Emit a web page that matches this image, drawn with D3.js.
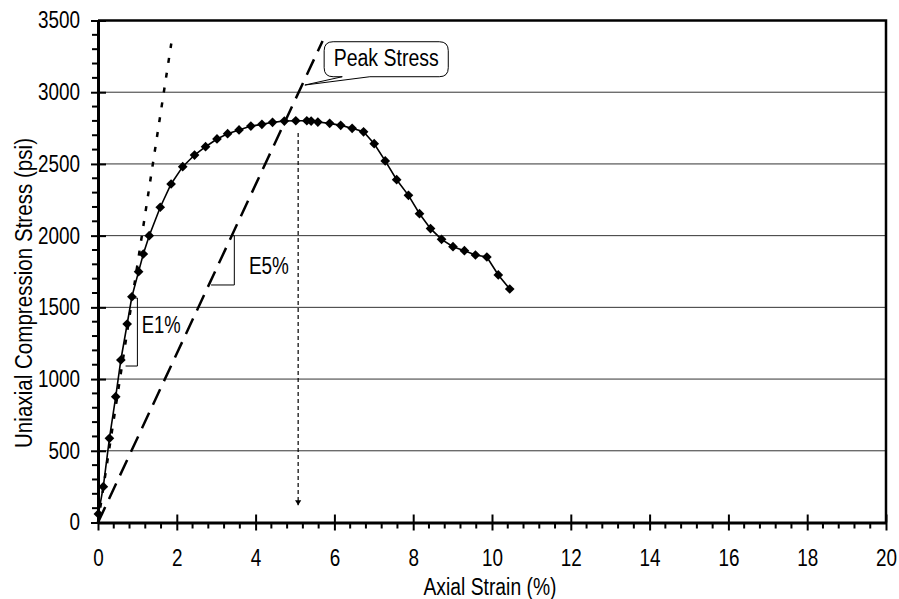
<!DOCTYPE html>
<html lang="en">
<head>
<meta charset="UTF-8">
<title>Stress-strain</title>
<style>
  body { margin: 0; background: #fff; }
  svg text { font-family: "Liberation Sans", Arial, sans-serif; }
</style>
</head>
<body>
<svg width="899" height="599" id="svg"></svg>
<script src="https://d3js.org/d3.v7.min.js"></script>
<script>
// axial strain (%) and stress (psi)
const strain = [0.01, 0.135, 0.29, 0.45, 0.58, 0.74, 0.86, 1.03, 1.15, 1.30, 1.58, 1.855,
  2.15, 2.45, 2.73, 3.02, 3.29, 3.58, 3.88, 4.16, 4.43, 4.73, 5.02, 5.30, 5.41, 5.58,
  5.88, 6.16, 6.45, 6.74, 7.01, 7.29, 7.58, 7.88, 8.16, 8.44, 8.72, 9.01, 9.30, 9.58,
  9.87, 10.16, 10.45]
const stress = [60, 250, 587, 877, 1133, 1384, 1574, 1749, 1872, 2000, 2198, 2360,
  2481, 2562, 2620, 2674, 2711, 2737, 2764, 2776, 2790, 2799, 2801, 2801, 2799, 2792,
  2783, 2769, 2748, 2724, 2641, 2521, 2390, 2281, 2153, 2049, 1974, 1923, 1895, 1865,
  1851, 1726, 1628]

// tangent (E1%) and secant (E5%) modulus lines, end points [strain, stress]
const e1Line = [[0, 0], [1.86, 3340]]
const e5Line = [[0, 0], [5.70, 3357]]

const xTicks = [0, 2, 4, 6, 8, 10, 12, 14, 16, 18, 20]
const yTicks = [0, 500, 1000, 1500, 2000, 2500, 3000, 3500]

const svg = d3.select("svg#svg")
const padding = { left: 98, right: 886, top: 20.5, bottom: 522.5 }
const fontSize = "23px"

const x = d3.scaleLinear().domain([0, 20]).range([padding.left, padding.right])
const y = d3.scaleLinear().domain([0, 3500]).range([padding.bottom, padding.top])

// squeeze text so the sans face reads like a narrow one
function narrow(sel, width) {
  sel.each(function () {
    const w = this.getComputedTextLength()
    if (w > 0) d3.select(this).attr("textLength", width || w * 0.82).attr("lengthAdjust", "spacingAndGlyphs")
  })
}

// gridlines
svg.append("g").selectAll("line").data(yTicks.filter(d => d > 0 && d < 3500)).join("line")
  .attr("x1", padding.left).attr("x2", padding.right)
  .attr("y1", d => y(d)).attr("y2", d => y(d))
  .attr("stroke", "#333").attr("stroke-width", 1)

// top and right frame
svg.append("path")
  .attr("d", `M${padding.left},${padding.top}H${padding.right}V${padding.bottom}`)
  .attr("fill", "none").attr("stroke", "#000").attr("stroke-width", 2.5)

// minor ticks
const xMinor = d3.range(0, 20.001, 0.4).filter(v => Math.abs(v / 2 - Math.round(v / 2)) > 0.01)
const yMinor = d3.range(0, 3501, 100).filter(v => v % 500 !== 0)
svg.append("g").selectAll("line").data(xMinor).join("line")
  .attr("x1", d => x(d)).attr("x2", d => x(d))
  .attr("y1", padding.bottom).attr("y2", padding.bottom + 6)
  .attr("stroke", "#000").attr("stroke-width", 2)
svg.append("g").selectAll("line").data(yMinor).join("line")
  .attr("y1", d => y(d)).attr("y2", d => y(d))
  .attr("x1", padding.left - 6).attr("x2", padding.left)
  .attr("stroke", "#000").attr("stroke-width", 2)

// major axes
const xAxis = svg.append("g").attr("transform", `translate(0,${padding.bottom})`)
  .call(d3.axisBottom(x).tickValues(xTicks).tickSize(8).tickSizeOuter(0).tickFormat(d => d))
xAxis.select(".domain").attr("stroke-width", 3)
xAxis.selectAll(".tick line").attr("y1", -8).attr("stroke-width", 2)
xAxis.selectAll(".tick text").attr("y", 27).attr("font-size", fontSize).attr("fill", "#000")
  .call(narrow)

const yAxis = svg.append("g").attr("transform", `translate(${padding.left},0)`)
  .call(d3.axisLeft(y).tickValues(yTicks).tickSize(7).tickPadding(11).tickSizeOuter(0).tickFormat(d => d))
yAxis.select(".domain").attr("stroke-width", 3)
yAxis.selectAll(".tick line").attr("x2", 8).attr("x1", -7).attr("stroke-width", 2)
yAxis.selectAll(".tick text").attr("font-size", fontSize).attr("fill", "#000")
  .call(narrow)

// axis titles
svg.append("text").attr("x", 490).attr("y", 595)
  .attr("text-anchor", "middle").attr("font-size", fontSize)
  .text("Axial Strain (%)")
  .call(narrow, 133)
svg.append("text").attr("transform", "translate(32,293) rotate(-90)")
  .attr("text-anchor", "middle").attr("font-size", fontSize)
  .text("Uniaxial Compression Stress (psi)")
  .call(narrow, 310)

const line = d3.line().x(d => x(d[0])).y(d => y(d[1]))

// modulus lines
svg.append("path").attr("d", line(e1Line))
  .attr("fill", "none").attr("stroke", "#000").attr("stroke-width", 2.5)
  .attr("stroke-dasharray", "5,10")
svg.append("path").attr("d", line(e5Line))
  .attr("fill", "none").attr("stroke", "#000").attr("stroke-width", 2.5)
  .attr("stroke-dasharray", "17,9")

// slope brackets
const bracket = (x0, x1, y0, y1, xb) =>
  `M${x(x0)},${y(y1)}H${x(x1)}V${y(y0)}H${x(xb)}`
svg.append("path").attr("d", bracket(0.87, 1.0, 1091, 1565, 0.70))
  .attr("fill", "none").attr("stroke", "#000").attr("stroke-width", 1)
svg.append("path").attr("d", bracket(3.40, 3.46, 1656, 2000, 2.87))
  .attr("fill", "none").attr("stroke", "#000").attr("stroke-width", 1)
svg.append("text").attr("x", x(1.11)).attr("y", y(1323)).attr("font-size", fontSize)
  .text("E1%").call(narrow, 39)
svg.append("text").attr("x", x(3.83)).attr("y", y(1730)).attr("font-size", fontSize)
  .text("E5%").call(narrow, 40)

// data curve
const pts = strain.map((s, i) => [s, stress[i]])
svg.append("path").attr("d", line(pts))
  .attr("fill", "none").attr("stroke", "#000").attr("stroke-width", 1.6)
svg.append("g").selectAll("path").data(pts).join("path")
  .attr("d", d3.symbol(d3.symbolDiamond2, 60))
  .attr("transform", d => `translate(${x(d[0])},${y(d[1])})`)
  .attr("fill", "#000")

// peak stress arrow
const peakX = 5.08
svg.append("defs").append("marker").attr("id", "arr")
  .attr("viewBox", "0 0 8 10").attr("refX", 8).attr("refY", 5)
  .attr("markerWidth", 5).attr("markerHeight", 7).attr("markerUnits", "userSpaceOnUse")
  .attr("orient", "auto")
  .append("path").attr("d", "M0,0L8,5L0,10Z").attr("fill", "#000")
svg.append("line").attr("x1", x(peakX)).attr("x2", x(peakX))
  .attr("y1", y(2715)).attr("y2", y(120))
  .attr("stroke", "#000").attr("stroke-width", 1.2).attr("stroke-dasharray", "4,3")
  .attr("marker-end", "url(#arr)")

// callout
const bx0 = x(5.74), bx1 = x(8.89), by0 = y(3352), by1 = y(3108), r = 9
const tipX = x(5.25), tipY = y(3050)
svg.append("path")
  .attr("d", `M${bx0 + r},${by0}H${bx1 - r}Q${bx1},${by0} ${bx1},${by0 + r}` +
    `V${by1 - r}Q${bx1},${by1} ${bx1 - r},${by1}H${x(6.9)}L${tipX},${tipY}L${x(6.2)},${by1}` +
    `H${bx0 + r}Q${bx0},${by1} ${bx0},${by1 - r}V${by0 + r}Q${bx0},${by0} ${bx0 + r},${by0}Z`)
  .attr("fill", "#fff").attr("stroke", "#000").attr("stroke-width", 1)
svg.append("text").attr("x", (bx0 + bx1) / 2).attr("y", by1 - 11)
  .attr("text-anchor", "middle").attr("font-size", fontSize).text("Peak Stress")
  .call(narrow, 105)
</script>
</body>
</html>
